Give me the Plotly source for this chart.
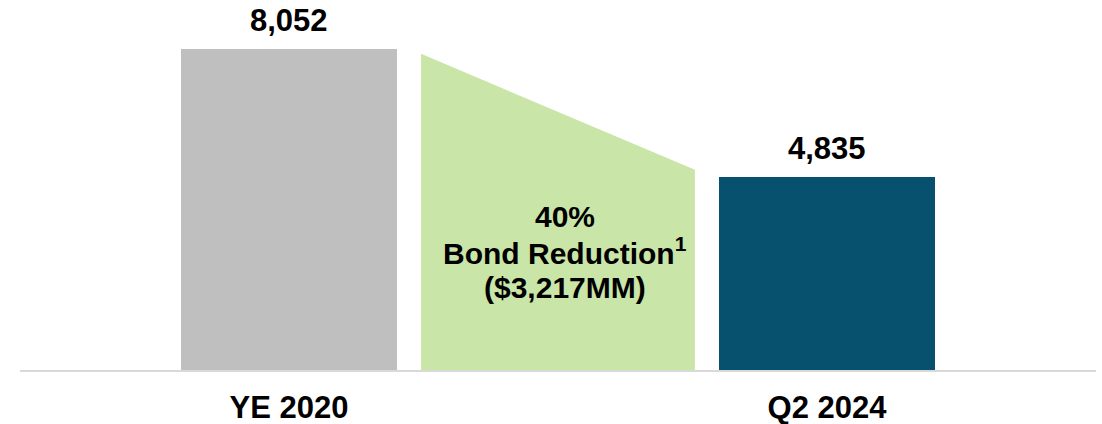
import plotly.graph_objects as go

# ---- data ----
categories = ["YE 2020", "Q2 2024"]
bond_values = [8052, 4835]
value_labels = ["8,052", "4,835"]
bar_colors = ["#BFBFBF", "#07506E"]
bridge_heights = [7930, 5020]          # visual heights of reduction wedge (left, right)
bridge_text = ["40%", "Bond Reduction<sup>1</sup>", "($3,217MM)"]

# positions
cat_pos = [0, 2]
bridge_pos = 1
bar_width = 0.803
bridge_half = 0.509

FONT = "Liberation Sans, Arial, sans-serif"

fig = go.Figure()

# wedge (bond reduction bridge)
bx = [bridge_pos - bridge_half, bridge_pos - bridge_half, bridge_pos + bridge_half, bridge_pos + bridge_half]
by = [0, bridge_heights[0], bridge_heights[1], 0]
fig.add_trace(go.Scatter(x=bx, y=by, fill="toself", fillcolor="#C9E5A8",
                         mode="lines", line=dict(width=0, color="#C9E5A8"),
                         hoverinfo="skip", showlegend=False))

fig.add_trace(go.Bar(x=cat_pos, y=bond_values, width=bar_width,
                     marker=dict(color=bar_colors, line=dict(width=0)),
                     showlegend=False))

ann = []
for xp, v, t in zip(cat_pos, bond_values, value_labels):
    ann.append(dict(x=xp, y=v, xref="x", yref="y", text=t, showarrow=False,
                    yanchor="middle", yshift=29,
                    font=dict(family=FONT, size=31, color="#000000", weight="bold")))

text_y = [3863, 2985, 2082]
for t, yv in zip(bridge_text, text_y):
    ann.append(dict(x=bridge_pos + 0.026, y=yv, xref="x", yref="y", text=t, showarrow=False,
                    yanchor="middle", xanchor="center",
                    font=dict(family=FONT, size=30, color="#000000", weight="bold")))

fig.update_layout(
    width=1102, height=424,
    margin=dict(l=20, r=6, t=0, b=54),
    paper_bgcolor="white", plot_bgcolor="white",
    annotations=ann,
    bargap=0,
    xaxis=dict(range=[-1, 3], tickvals=cat_pos, ticktext=categories,
               showgrid=False, zeroline=False, showline=True,
               linecolor="#D9D9D9", linewidth=2, ticks="",
               tickfont=dict(family=FONT, size=31, color="#000000", weight="bold"),
               ticklabelstandoff=9, fixedrange=True),
    yaxis=dict(range=[0, 9281], visible=False, showgrid=False, zeroline=False, fixedrange=True),
)

fig.write_html("out.html")
